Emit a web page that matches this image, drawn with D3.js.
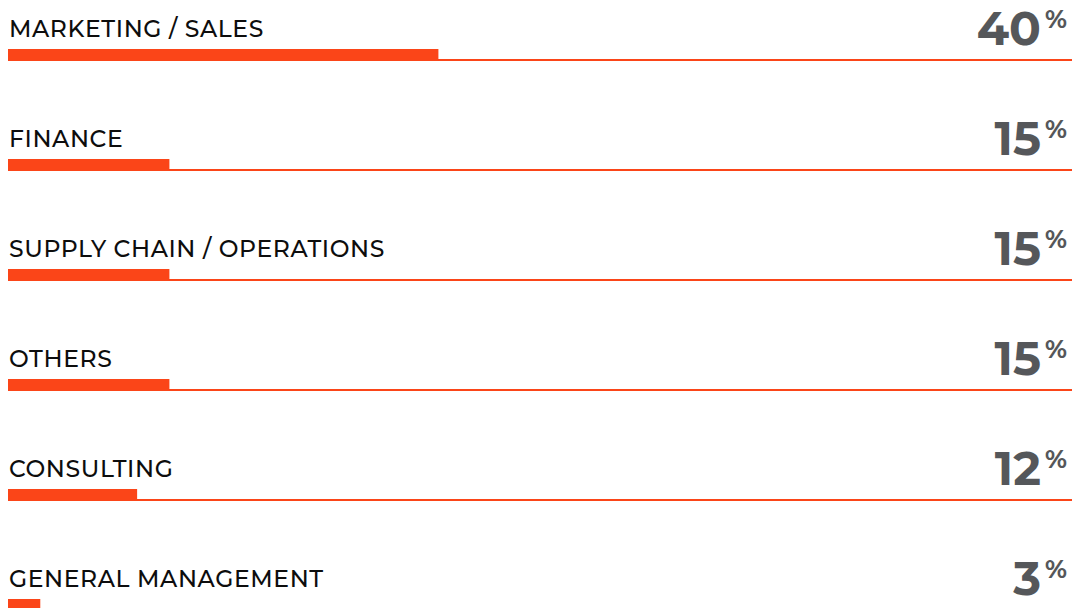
<!DOCTYPE html>
<html>
<head>
<meta charset="utf-8">
<script src="https://cdn.jsdelivr.net/npm/d3@7"></script>
<style>
  body { margin: 0; background: #fff; }
  #chart { width: 1079px; height: 608px; }
</style>
</head>
<body>
<div id="chart"></div>
<script>
const categories = ["MARKETING / SALES", "FINANCE", "SUPPLY CHAIN / OPERATIONS", "OTHERS", "CONSULTING", "GENERAL MANAGEMENT"];
const shares = [40, 15, 15, 15, 12, 3];

const width = 1079, height = 608;
const orange = "#fb4518";
const grey = "#55575a";

const svg = d3.select("#chart").append("svg")
    .attr("width", width)
    .attr("height", height);

// one row per category, the baseline sits at the row position
const y = d3.scalePoint().domain(categories).range([60, 610]);
const x = d3.scaleLinear().domain([0, 100]).range([8, 1084]);

const rows = svg.selectAll("g.row")
    .data(categories.map((c, i) => ({ name: c, value: shares[i] })))
    .join("g")
    .attr("class", "row")
    .attr("transform", d => `translate(0, ${y(d.name)})`);

rows.append("rect")
    .attr("x", 8)
    .attr("y", -1)
    .attr("width", 1072 - 8)
    .attr("height", 2)
    .attr("fill", orange);

rows.append("rect")
    .attr("x", x(0))
    .attr("y", -11)
    .attr("width", d => x(d.value) - x(0))
    .attr("height", 12)
    .attr("fill", orange);

rows.append("text")
    .attr("x", 9)
    .attr("y", -23)
    .attr("font-family", "Montserrat, 'Noto Sans', sans-serif")
    .attr("font-size", 23.5)
    .attr("font-weight", 500)
    .attr("letter-spacing", 0.6)
    .attr("fill", "#0d0d0d")
    .text(d => d.name);

rows.append("text")
    .attr("x", 1041)
    .attr("y", -15)
    .attr("text-anchor", "end")
    .attr("font-family", "Montserrat, 'Noto Sans', sans-serif")
    .attr("font-weight", "bold")
    .attr("font-size", 47)
    .attr("fill", grey)
    .text(d => d.value);

rows.append("text")
    .attr("x", 1045)
    .attr("y", -32)
    .attr("font-family", "Montserrat, 'Noto Sans', sans-serif")
    .attr("font-weight", "bold")
    .attr("font-size", 25)
    .attr("fill", grey)
    .text("%");
</script>
</body>
</html>
